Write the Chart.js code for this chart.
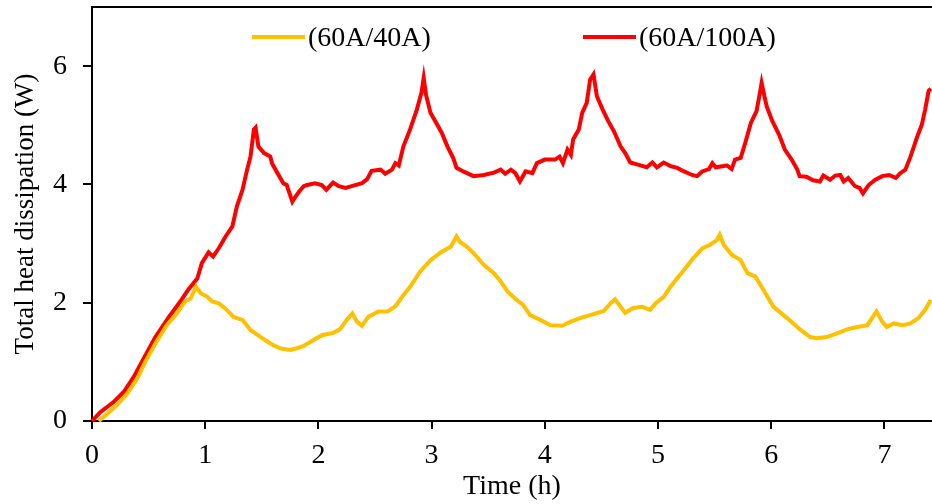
<!DOCTYPE html>
<html>
<head>
<meta charset="utf-8">
<script src="https://cdn.jsdelivr.net/npm/chart.js@4/dist/chart.umd.min.js"></script>
<style>
html,body{margin:0;padding:0;background:#fff;}
#wrap{width:932px;height:504px;}
</style>
</head>
<body>
<div id="wrap"><canvas id="c" width="932" height="504"></canvas></div>
<script>
// ---- data ----
const seriesLabels = ["(60A/40A)", "(60A/100A)"];
const xTitle = "Time (h)";
const yTitle = "Total heat dissipation (W)";

const time40 = [0.06,0.13,0.22,0.31,0.40,0.47,0.56,0.66,0.75,0.82,0.87,0.92,0.96,1.02,1.06,1.12,1.18,1.25,1.33,1.40,1.49,1.575,1.66,1.75,1.81,1.87,1.93,2.03,2.13,2.19,2.25,2.30,2.34,2.385,2.44,2.53,2.61,2.68,2.74,2.81,2.90,2.99,3.08,3.17,3.22,3.25,3.31,3.37,3.46,3.55,3.61,3.67,3.72,3.75,3.81,3.87,3.96,4.05,4.15,4.23,4.31,4.40,4.52,4.58,4.62,4.67,4.71,4.78,4.86,4.93,4.98,5.05,5.11,5.18,5.24,5.31,5.39,5.46,5.52,5.545,5.58,5.65,5.73,5.79,5.86,5.93,6.02,6.14,6.26,6.345,6.40,6.49,6.58,6.67,6.76,6.85,6.89,6.93,6.98,7.02,7.08,7.16,7.23,7.30,7.36,7.41];
const heat40 = [0,0.12,0.27,0.46,0.72,1.0,1.31,1.62,1.82,2.02,2.07,2.27,2.16,2.10,2.02,1.99,1.90,1.76,1.71,1.54,1.42,1.31,1.23,1.20,1.23,1.27,1.34,1.45,1.49,1.55,1.71,1.82,1.68,1.61,1.76,1.85,1.85,1.94,2.10,2.27,2.53,2.72,2.85,2.95,3.12,3.03,2.95,2.84,2.64,2.50,2.36,2.19,2.10,2.05,1.96,1.79,1.71,1.62,1.61,1.68,1.74,1.79,1.86,1.99,2.06,1.93,1.83,1.91,1.93,1.88,1.99,2.10,2.27,2.44,2.58,2.75,2.92,2.98,3.06,3.15,2.98,2.81,2.72,2.50,2.44,2.22,1.93,1.74,1.54,1.42,1.40,1.42,1.48,1.55,1.59,1.62,1.74,1.85,1.68,1.59,1.65,1.62,1.65,1.74,1.88,2.05];

const time100 = [0,0.073,0.19,0.28,0.37,0.44,0.56,0.68,0.78,0.85,0.93,0.97,1.03,1.07,1.12,1.18,1.24,1.28,1.33,1.37,1.40,1.43,1.445,1.47,1.52,1.575,1.59,1.63,1.69,1.72,1.77,1.80,1.83,1.87,1.90,1.97,2.03,2.07,2.13,2.18,2.24,2.31,2.385,2.43,2.47,2.55,2.59,2.65,2.68,2.71,2.75,2.81,2.87,2.91,2.93,2.95,2.99,3.05,3.09,3.14,3.19,3.22,3.28,3.37,3.46,3.55,3.61,3.65,3.70,3.74,3.78,3.83,3.89,3.93,4.00,4.09,4.13,4.16,4.20,4.23,4.25,4.30,4.33,4.37,4.40,4.43,4.46,4.51,4.56,4.61,4.67,4.71,4.755,4.83,4.90,4.95,4.99,5.05,5.11,5.17,5.23,5.30,5.345,5.39,5.45,5.48,5.51,5.58,5.61,5.65,5.68,5.73,5.77,5.82,5.87,5.90,5.915,5.94,5.96,6.01,6.07,6.12,6.18,6.23,6.25,6.31,6.37,6.43,6.46,6.52,6.565,6.61,6.64,6.68,6.74,6.78,6.81,6.86,6.92,6.98,7.04,7.10,7.14,7.185,7.23,7.29,7.33,7.36,7.39,7.41];
const heat100 = [0,0.15,0.32,0.49,0.75,1.0,1.42,1.76,2.02,2.22,2.41,2.67,2.85,2.78,2.92,3.12,3.29,3.63,3.91,4.25,4.47,4.93,4.96,4.64,4.53,4.47,4.36,4.22,4.02,3.99,3.71,3.80,3.88,3.97,3.99,4.02,3.99,3.91,4.03,3.97,3.94,3.98,4.02,4.09,4.23,4.25,4.18,4.25,4.36,4.32,4.64,4.93,5.27,5.55,5.80,5.52,5.21,5.01,4.87,4.64,4.45,4.28,4.22,4.14,4.16,4.20,4.25,4.18,4.25,4.19,4.05,4.22,4.19,4.36,4.42,4.42,4.47,4.36,4.59,4.50,4.76,4.93,5.21,5.38,5.77,5.86,5.49,5.27,5.07,4.90,4.64,4.53,4.37,4.33,4.29,4.37,4.29,4.37,4.31,4.28,4.22,4.16,4.14,4.22,4.26,4.36,4.29,4.31,4.32,4.26,4.42,4.45,4.70,5.04,5.24,5.55,5.72,5.49,5.32,5.07,4.84,4.59,4.42,4.25,4.14,4.13,4.07,4.05,4.15,4.08,4.15,4.16,4.05,4.11,3.97,3.94,3.85,3.99,4.08,4.14,4.16,4.11,4.19,4.25,4.47,4.81,5.01,5.27,5.58,5.62];

const xMin = 0, xMax = 7.42, xStep = 1;
const yMin = 0, yMax = 7, yStep = 2;

// ---- styles ----
const FONT = "'Liberation Serif','Times New Roman',serif";
const colors = ["#FFC000", "#FF0000"];

function pts(xs, ys){ return xs.map((x,i)=>({x:x, y:ys[i]})); }

const frameAndLegend = {
  id: 'frameAndLegend',
  afterDraw(chart){
    const {ctx, chartArea:a} = chart;
    ctx.save();
    // top frame line
    ctx.strokeStyle = '#000';
    ctx.lineWidth = 2;
    ctx.beginPath();
    ctx.moveTo(a.left-1, a.top);
    ctx.lineTo(a.right, a.top);
    ctx.stroke();
    // legend
    ctx.font = "28px " + FONT;
    ctx.textBaseline = 'middle';
    ctx.textAlign = 'left';
    const items = [{x0:a.left+160, len:53}, {x0:a.left+491, len:53}];
    const ly = a.top + 30;
    chart.data.datasets.forEach((ds,i)=>{
      const it = items[i];
      ctx.strokeStyle = ds.borderColor;
      ctx.lineWidth = 4;
      ctx.beginPath();
      ctx.moveTo(it.x0, ly);
      ctx.lineTo(it.x0+it.len, ly);
      ctx.stroke();
      ctx.fillStyle = '#000';
      ctx.fillText(ds.label, it.x0+it.len+3, ly+2);
    });
    ctx.restore();
  }
};

new Chart(document.getElementById('c'), {
  type: 'line',
  data: {
    datasets: [
      {label: seriesLabels[0], data: pts(time40, heat40), borderColor: colors[0], backgroundColor: colors[0], borderWidth: 4, pointRadius: 0, tension: 0, clip: false},
      {label: seriesLabels[1], data: pts(time100, heat100), borderColor: colors[1], backgroundColor: colors[1], borderWidth: 4, pointRadius: 0, tension: 0, clip: false}
    ]
  },
  options: {
    responsive: false,
    animation: false,
    layout: {padding: {top: 7, right: 0, left: 0, bottom: 0}},
    plugins: {legend: {display: false}, tooltip: {enabled: false}},
    scales: {
      x: {
        type: 'linear', min: xMin, max: xMax,
        ticks: {stepSize: xStep, includeBounds: false, color: '#000', font: {family: FONT, size: 28}, padding: 10, maxRotation: 0},
        grid: {display: true, drawOnChartArea: false, drawTicks: true, tickLength: 8, color: '#000', lineWidth: 2},
        border: {display: true, color: '#000', width: 2},
        title: {display: true, text: xTitle, color: '#000', font: {family: FONT, size: 28}, padding: {top: 0, bottom: 1}},
        afterFit(s){ s.height = 83; s.paddingLeft = 0; s.paddingRight = 0; }
      },
      y: {
        type: 'linear', min: yMin, max: yMax,
        ticks: {stepSize: yStep, includeBounds: false, color: '#000', font: {family: FONT, size: 28}, padding: 16},
        grid: {display: true, drawOnChartArea: false, drawTicks: true, tickLength: 9, color: '#000', lineWidth: 2},
        border: {display: true, color: '#000', width: 2},
        title: {display: true, text: yTitle, color: '#000', font: {family: FONT, size: 27}, padding: {top: 10, bottom: 0}},
        afterFit(s){ s.width = 92; s.paddingTop = 0; s.paddingBottom = 0; }
      }
    }
  },
  plugins: [frameAndLegend]
});
</script>
</body>
</html>
